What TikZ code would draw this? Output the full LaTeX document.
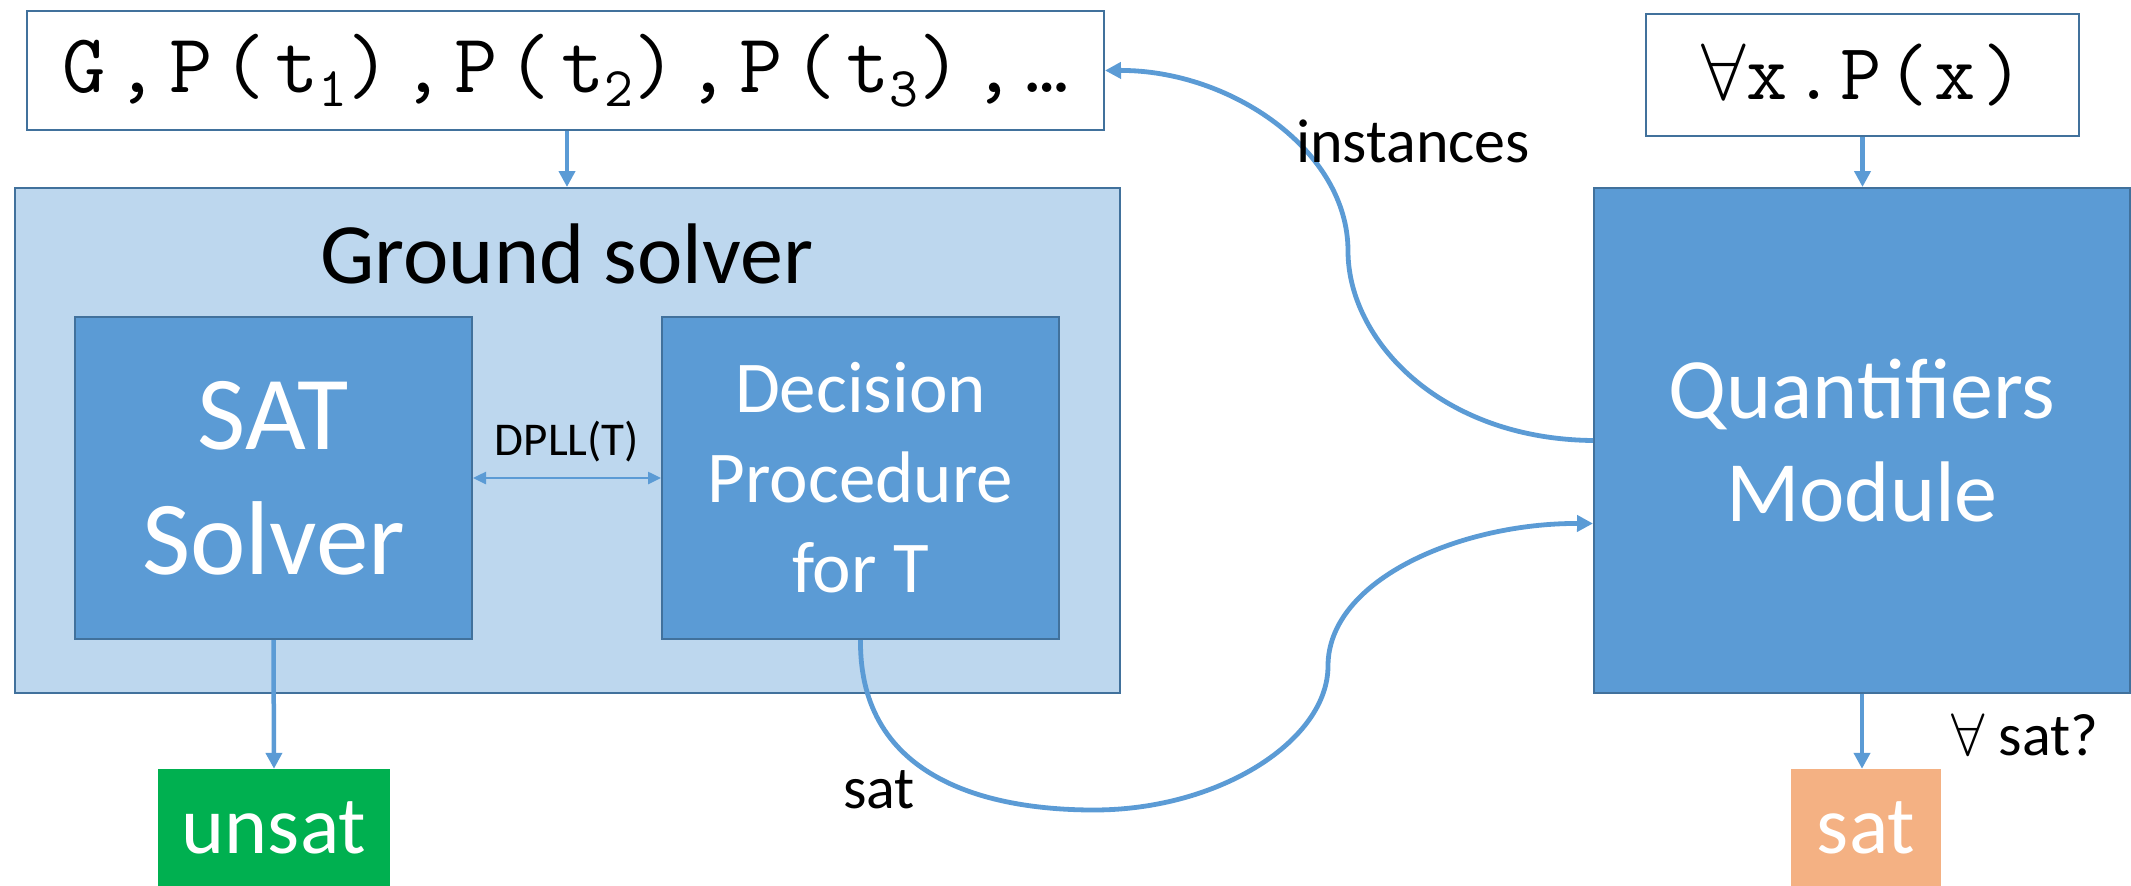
\documentclass[tikz,border=0pt]{standalone}
\usepackage{graphicx}
\usepackage{fontspec}
\setmainfont{Carlito}
\newfontfamily\codefont[LetterSpace=7.5]{Latin Modern Mono}
\newfontfamily\widecodefont[LetterSpace=12]{Latin Modern Mono}
\usetikzlibrary{arrows.meta}

\definecolor{lightfill}{HTML}{BDD7EE}
\definecolor{midfill}{HTML}{5B9BD5}
\definecolor{boxedge}{HTML}{41719C}
\definecolor{link}{HTML}{5B9BD5}
\definecolor{unsatgreen}{HTML}{00B050}
\definecolor{satorange}{HTML}{F4B183}

\newcommand\subdigit[1]{\raisebox{-14pt}{\fontsize{56}{56}\selectfont #1}}
\newcommand\allsym[1]{{\fontsize{10}{12}\selectfont\scalebox{#1}{$\forall$}}}

\tikzset{
  box/.style={draw=boxedge, line width=2pt, inner sep=0pt, align=center},
  codebox/.style={box, fill=white},
  outerbox/.style={box, fill=lightfill},
  innerbox/.style={box, fill=midfill, text=white},
  resultbox/.style={inner sep=0pt, text=white, font=\fontsize{82}{90}\selectfont},
  flow/.style={draw=link, line width=4.5pt, -{Triangle[length=16pt,width=16pt]}},
  twoway/.style={draw=link, line width=2.5pt, {Triangle[length=13pt,width=12pt]}-{Triangle[length=13pt,width=12pt]}},
  curvelink/.style={draw=link, line width=4.8pt, -{Triangle[length=16pt,width=16pt]}},
  label/.style={inner sep=0pt}
}

\begin{document}
\begin{tikzpicture}[x=1pt,y=-1pt]
\useasboundingbox (0,0) rectangle (2131,886);

% input formulas
\node[codebox, minimum width=1077pt, minimum height=119pt,
      font=\widecodefont\fontsize{84}{84}\selectfont] (terms) at (565.5,70.5)
  {G,P(t\subdigit{1}),P(t\subdigit{2}),P(t\subdigit{3}),…};
\node[codebox, minimum width=433pt, minimum height=122pt,
      font=\codefont\fontsize{80}{80}\selectfont] (forall) at (1862.5,75)
  {\allsym{8}x.P(x)};

% ground solver and its parts
\node[outerbox, minimum width=1105pt, minimum height=505pt] (ground) at (567.5,440.5) {};
\node[label, font=\fontsize{86}{90}\selectfont] (gtitle) at (567,254) {Ground solver};
\node[innerbox, minimum width=397pt, minimum height=322pt, font=\fontsize{105}{125}\selectfont] (satsolver) at (273.5,478) {SAT\\Solver};
\node[innerbox, minimum width=397pt, minimum height=322pt, font=\fontsize{73}{90}\selectfont] (decision) at (860.5,478) {Decision\\Procedure\\for T};

% quantifier module
\node[innerbox, minimum width=536pt, minimum height=505pt, font=\fontsize{86}{103}\selectfont] (qm) at (1862,440.5) {Quantifiers\\Module};

% results
\node[resultbox, fill=unsatgreen, minimum width=232pt, minimum height=117pt] (unsat) at (274,827.5) {unsat};
\node[resultbox, fill=satorange, minimum width=150pt, minimum height=117pt] (satres) at (1866,827.5) {sat};

% straight connectors
\draw[flow] (terms.south -| gtitle) -- (ground.north -| gtitle);
\draw[flow] (forall.south) -- (qm.north -| forall.south);
\draw[flow] (satsolver.south) -- (unsat.north);
\draw[flow] (qm.south) -- (qm.south |- satres.north);
\draw[twoway] (satsolver.east) -- (decision.west);
\node[label, font=\fontsize{47}{52}\selectfont] (dpll) at (567,442) {DPLL(T)};

% curved connectors
\draw[curvelink] (qm.west)
  .. controls (1440,439) and (1348,340) .. (1348,251)
  .. controls (1348,150) and (1230,70) .. (terms.east);
\draw[curvelink] (decision.south)
  .. controls (859,780) and (990,810) .. (1094,810)
  .. controls (1220,810) and (1328,740) .. (1328,666)
  .. controls (1328,580) and (1460,523) .. ([yshift=-83pt]qm.west);

% labels
\node[label, font=\fontsize{62}{68}\selectfont] (inst) at (1413,141) {instances};
\node[label, font=\fontsize{60}{66}\selectfont] (satlbl) at (879,790) {sat};
\node[label, font=\fontsize{60}{66}\selectfont] (allsat) at (2025,735) {\allsym{6} sat?};
\end{tikzpicture}
\end{document}
